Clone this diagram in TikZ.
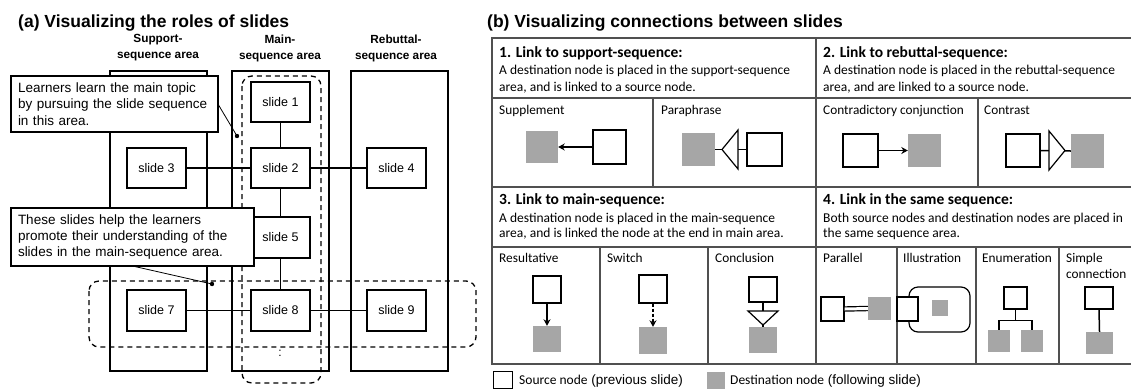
\documentclass[tikz,border=0pt]{standalone}
\usepackage{fontspec}
\setmainfont{Liberation Sans}
\newfontfamily\carlito{Carlito}
\usetikzlibrary{positioning,arrows.meta}
\definecolor{destgray}{RGB}{166,166,166}
\definecolor{framegray}{RGB}{80,80,80}
\tikzset{
  area/.style={draw, line width=1.3pt, minimum width=97pt, minimum height=300pt, inner sep=0pt},
  arealabel/.style={font=\bfseries\fontsize{11.8}{16}\selectfont, align=center},
  slidebox/.style={draw, fill=white, line width=1.3pt, minimum width=59pt, minimum height=40pt, font=\fontsize{12.5}{15}\selectfont},
  groupline/.style={dash pattern=on 5pt off 4pt, line width=1.3pt, rounded corners=10pt},
  callout/.style={draw, fill=white, line width=1.1pt, align=left, inner xsep=7pt, inner ysep=0pt, font=\fontsize{13.5}{16.3}\selectfont},
  link/.style={line width=1.5pt},
  frame/.style={draw=framegray, line width=1.4pt},
  head/.style={anchor=base west, inner sep=0pt, font=\carlito\bfseries\fontsize{15.5}{18}\selectfont},
  body/.style={anchor=base west, inner sep=0pt, font=\carlito\fontsize{13.5}{16}\selectfont},
  kind/.style={anchor=base west, inner sep=0pt, font=\carlito\fontsize{13.3}{16}\selectfont},
  srcnode/.style={draw, fill=white, line width=1.2pt, inner sep=0pt},
  dstnode/.style={fill=destgray, inner sep=0pt},
}
\begin{document}
\begin{tikzpicture}[x=1pt,y=-1pt, >={Stealth[length=6.5pt,width=7pt]}]
\useasboundingbox (0,0) rectangle (1131,389);

% (a) roles of slides
\node[anchor=base west, inner sep=0pt, font=\bfseries\fontsize{17.5}{20}\selectfont] (titleA) at (18,27) {(a) Visualizing the roles of slides};

\node[area] (supparea) at (158.5,221) {};
\node[area] (mainarea) at (280.5,221) {};
\node[area] (rebarea) at (399.5,221) {};
\node[arealabel] (supplbl) at (158,48) {Support-\\sequence area};
\node[arealabel] (mainlbl) at (280,48) {Main-\\sequence area};
\node[arealabel] (reblbl) at (396,48) {Rebuttal-\\sequence area};

% groups
\draw[groupline] (242,76) rectangle (321,383);
\draw[groupline] (89,281) rectangle (476,347);

\node[slidebox] (s1) at (280.5,102) {slide 1};
\node[slidebox] (s2) at (280.5,168) {slide 2};
\node[slidebox] (s3) at (156.5,168) {slide 3};
\node[slidebox] (s4) at (396.5,168) {slide 4};
\node[slidebox, minimum height=41pt] (s5) at (280.5,237.5) {slide 5};
\node[slidebox, minimum height=41pt] (s7) at (156.5,310.5) {slide 7};
\node[slidebox, minimum height=41pt] (s8) at (280.5,310.5) {slide 8};
\node[slidebox, minimum height=41pt] (s9) at (396.5,310.5) {slide 9};
\node[font=\fontsize{12}{14}\selectfont] (more) at (280,353) {:};

\draw[link] (s1) -- (s2);
\draw[link] (s2) -- (s5);
\draw[link] (s5) -- (s8);
\draw[link] (s3) -- (s2);
\draw[link] (s2) -- (s4);
\draw[link] (s7) -- (s8);
\draw[link] (s8) -- (s9);

% callouts
\node[callout, text width=193pt, minimum height=56pt] (noteA) at (114.5,104) {Learners learn the main topic\\by pursuing the slide sequence\\in this area.};
\node[callout, text width=229pt, minimum height=58pt] (noteB) at (132.5,237) {These slides help the learners\\promote their understanding of the\\slides in the main-sequence area.};
\coordinate (dotA) at (237,136);
\coordinate (dotB) at (212,284);
\draw[line width=0.8pt] (noteA.east |- 0,105) -- (dotA);
\draw[line width=0.8pt] (135,0 |- noteB.south) -- (dotB);
\fill (dotA) circle (2.2pt);
\fill (dotB) circle (2.2pt);

% (b) connections between slides
\node[anchor=base west, inner sep=0pt, font=\bfseries\fontsize{17.5}{20}\selectfont] (titleB) at (487,27) {(b) Visualizing connections between slides};

\draw[frame] (1131,38) -- (492,38) -- (492,364) -- (1131,364);
\draw[frame] (816,38) -- (816,364);
\draw[frame] (492,98) -- (1131,98);
\draw[frame] (492,187) -- (1131,187);
\draw[frame] (492,247) -- (1131,247);
\draw[frame] (653,98) -- (653,187);
\draw[frame] (978,98) -- (978,187);
\draw[frame] (600,247) -- (600,364);
\draw[frame] (708,247) -- (708,364);
\draw[frame] (897,247) -- (897,364);
\draw[frame] (976,247) -- (976,364);
\draw[frame] (1059,247) -- (1059,364);

\node[head] (h1) at (499,57) {1. Link to support-sequence:};
\node[body] at (499,74) {A destination node is placed in the support-sequence};
\node[body] at (499,91) {area, and is linked to a source node.};
\node[head] (h2) at (823,57) {2. Link to rebuttal-sequence:};
\node[body] at (823,74) {A destination node is placed in the rebuttal-sequence};
\node[body] at (823,91) {area, and are linked to a source node.};
\node[head] (h3) at (499,204) {3. Link to main-sequence:};
\node[body] at (499,222) {A destination node is placed in the main-sequence};
\node[body] at (499,237) {area, and is linked the node at the end in main area.};
\node[head] (h4) at (823,204) {4. Link in the same sequence:};
\node[body] at (823,222) {Both source nodes and destination nodes are placed in};
\node[body] at (823,237) {the same sequence area.};

\node[kind] at (499,114) {Supplement};
\node[kind] at (661,114) {Paraphrase};
\node[kind] at (823,114) {Contradictory conjunction};
\node[kind] at (984,114) {Contrast};
\node[kind] at (499,262) {Resultative};
\node[kind] at (607,262) {Switch};
\node[kind] at (715,262) {Conclusion};
\node[kind] at (823,262) {Parallel};
\node[kind] at (903,262) {Illustration};
\node[kind] at (982,262) {Enumeration};
\node[kind] at (1066,262) {Simple};
\node[kind] at (1066,278) {connection};

% supplement
\node[dstnode, minimum width=32pt, minimum height=32pt] (supD) at (542,147) {};
\node[srcnode, minimum width=33pt, minimum height=34pt] (supS) at (609.5,147) {};
\draw[link,->] (supS.west) -- (supD.east);
% paraphrase
\node[dstnode, minimum width=33pt, minimum height=33pt] (parD) at (698.5,149.5) {};
\node[srcnode, minimum width=35pt, minimum height=33pt] (parS) at (764.5,149.5) {};
\draw[link] (parS.west) -- (parD.east);
\draw[srcnode] (722,149.5) -- (738,130) -- (738,169) -- cycle;
% contradictory conjunction
\node[srcnode, minimum width=35pt, minimum height=33pt] (conS) at (860.5,150.5) {};
\node[dstnode, minimum width=33pt, minimum height=33pt] (conD) at (924.5,150.5) {};
\draw[link,->] (conS.east) -- (conD.west);
% contrast
\node[srcnode, minimum width=34pt, minimum height=33pt] (ctrS) at (1023,150.5) {};
\node[dstnode, minimum width=33pt, minimum height=34pt] (ctrD) at (1087.5,151) {};
\draw[link] (ctrS.east) -- (ctrD.west);
\draw[srcnode] (1065,150.5) -- (1049,131) -- (1049,170) -- cycle;

% resultative
\node[srcnode, minimum width=28pt, minimum height=27pt] (resS) at (547,289.5) {};
\node[dstnode, minimum width=28pt, minimum height=26pt] (resD) at (547,339) {};
\draw[link,->] (resS.south) -- (resD.north);
% switch
\node[srcnode, minimum width=28pt, minimum height=28pt] (swS) at (653,289) {};
\node[dstnode, minimum width=28pt, minimum height=27pt] (swD) at (653,340.5) {};
\draw[link,->,dash pattern=on 3pt off 2pt] (swS.south) -- (swD.north);
% conclusion
\node[srcnode, minimum width=28pt, minimum height=25pt] (cncS) at (763,289.5) {};
\node[dstnode, minimum width=28pt, minimum height=26pt] (cncD) at (763,340) {};
\draw[link] (cncS.south) -- (cncD.north);
\draw[srcnode] (763,325) -- (748,311) -- (778,311) -- cycle;

% parallel
\node[srcnode, minimum width=23pt, minimum height=24pt] (palS) at (832.5,309) {};
\node[dstnode, minimum width=23pt, minimum height=23pt] (palD) at (879.5,308.5) {};
\draw[line width=1.2pt, double, double distance=3pt] (palS.east) -- (palD.west);
% illustration
\draw[link, line width=1.2pt, rounded corners=9pt] (909,287) rectangle (970,332);
\node[srcnode, minimum width=21pt, minimum height=24pt] (illS) at (907.5,309) {};
\node[dstnode, minimum width=16pt, minimum height=16pt] (illD) at (940,308) {};
% enumeration
\node[srcnode, minimum width=23pt, minimum height=22pt] (enuS) at (1015.5,298) {};
\node[dstnode, minimum width=22pt, minimum height=22pt] (enuD1) at (999,341) {};
\node[dstnode, minimum width=22pt, minimum height=22pt] (enuD2) at (1032,341) {};
\draw[link] (enuS.south) -- ++(0,11) -| (enuD1.north);
\draw[link] (enuS.south) -- ++(0,11) -| (enuD2.north);
% simple connection
\node[srcnode, minimum width=28pt, minimum height=22pt] (simS) at (1099,298) {};
\node[dstnode, minimum width=27pt, minimum height=22pt] (simD) at (1099.5,343) {};
\draw[link] (simS.south) -- (simD.north);

% legend
\node[srcnode, minimum width=19pt, minimum height=17pt] (legS) at (503,380) {};
\node[anchor=base west, inner sep=0pt, font=\fontsize{13.5}{16}\selectfont] (legStext) at (519,384) {{\carlito Source node} (previous slide)};
\node[dstnode, minimum width=18pt, minimum height=17pt] (legD) at (716,380) {};
\node[anchor=base west, inner sep=0pt, font=\fontsize{13.5}{16}\selectfont] (legDtext) at (730,384) {{\carlito Destination node} (following slide)};
\end{tikzpicture}
\end{document}
